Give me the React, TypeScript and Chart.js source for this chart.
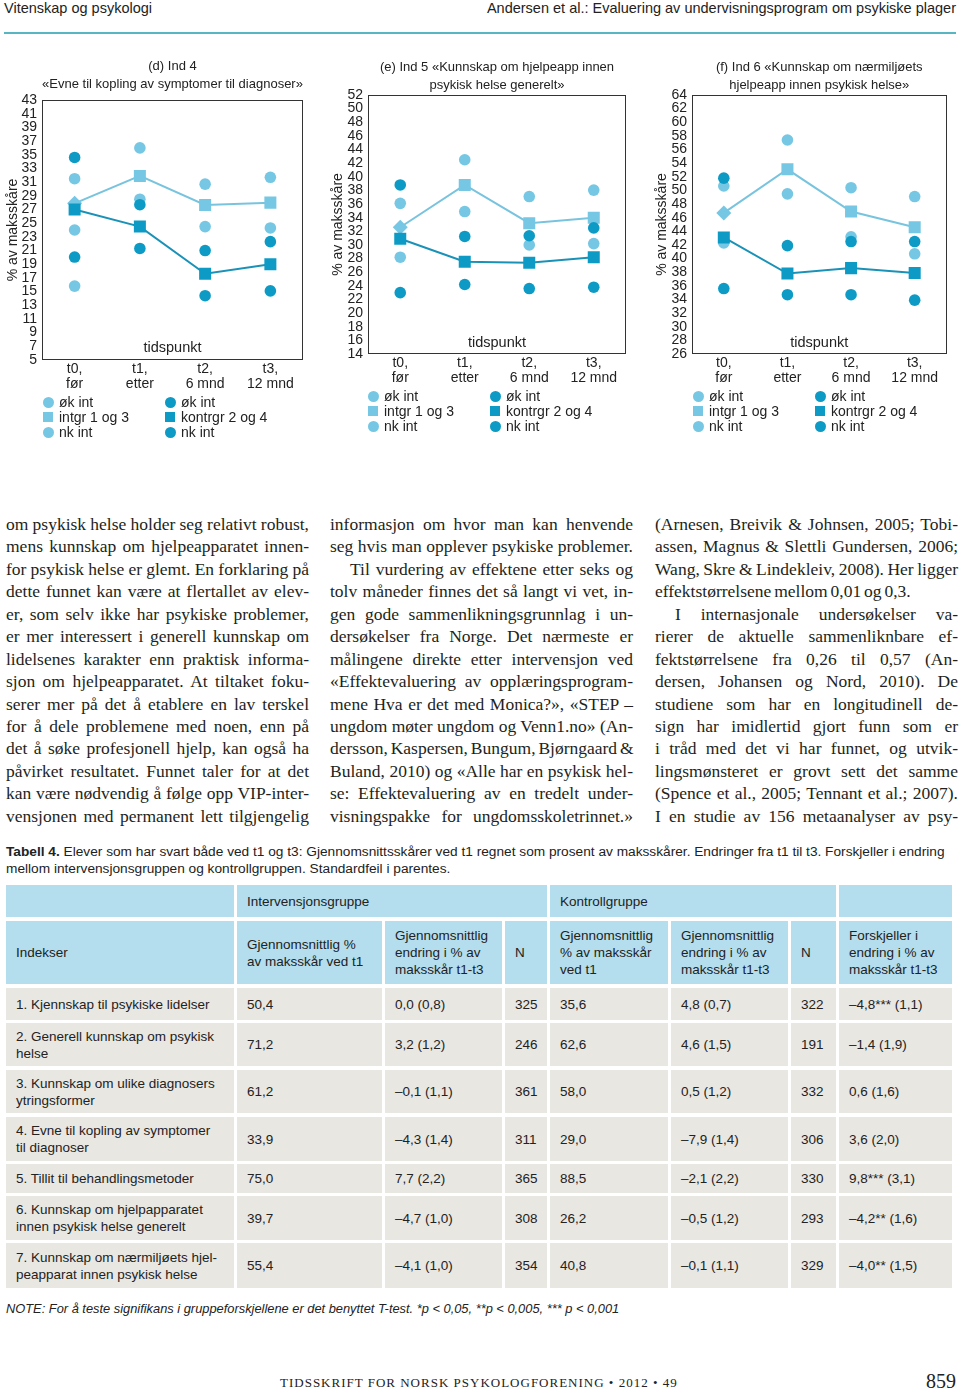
import React, { useEffect, useRef } from "react";
import { Chart, registerables } from "chart.js";

Chart.register(...registerables);
Chart.defaults.font.family = "'Liberation Sans', Arial, sans-serif";

// ---------- chart data ----------
const categories = [["t0,", "før"], ["t1,", "etter"], ["t2,", "6 mnd"], ["t3,", "12 mnd"]];
const yStep = 2;

// (d) Ind 4
const dTitle = ["(d) Ind 4", "«Evne til kopling av symptomer til diagnoser»"];
const dRange = [5, 43];
const dIntOk = [31.5, 36.0, 30.7, 31.7];
const dIntNk = [24.0, 28.5, 24.5, 24.3];
const dIntExtra = [15.8, null, null, null];
const dIntMean = [27.9, 31.9, 27.65, 28.0];
const dKonOk = [34.6, 27.7, 21.0, 22.3];
const dKonNk = [20.05, 21.3, 14.4, 15.1];
const dKonMean = [27.0, 24.5, 17.6, 19.0];

// (e) Ind 5
const eTitle = ["(e) Ind 5 «Kunnskap om hjelpeapp innen", "psykisk helse generelt»"];
const eRange = [14, 52];
const eIntOk = [36.1, 42.5, 37.1, 38.05];
const eIntNk = [28.2, 34.9, 30.0, 30.2];
const eIntMean = [32.6, 38.8, 33.2, 34.0];
const eKonOk = [38.8, 31.25, 31.35, 32.5];
const eKonNk = [23.0, 24.2, 23.6, 23.8];
const eKonMean = [30.9, 27.55, 27.4, 28.2];

// (f) Ind 6
const fTitle = ["(f) Ind 6 «Kunnskap om nærmiljøets", "hjelpeapp innen psykisk helse»"];
const fRange = [26, 64];
const fIntOk = [50.65, 57.4, 50.4, 49.1];
const fIntNk = [42.3, 49.5, 43.2, 40.7];
const fIntMean = [46.7, 53.1, 46.9, 44.6];
const fKonOk = [51.8, 41.9, 42.5, 42.5];
const fKonNk = [35.6, 34.7, 34.7, 33.9];
const fKonMean = [43.1, 37.8, 38.6, 37.9];

const legendLeft = ["øk int", "intgr 1 og 3", "nk int"];
const legendRight = ["øk int", "kontrgr 2 og 4", "nk int"];

// ---------- page text ----------
const headerLeft = "Vitenskap og psykologi";
const headerRight = "Andersen et al.: Evaluering av undervisningsprogram om psykiske plager";

const col1 = [
  "om psykisk helse holder seg relativt robust,",
  "mens kunnskap om hjelpeapparatet innen-",
  "for psykisk helse er glemt. En forklaring på",
  "dette funnet kan være at flertallet av elev-",
  "er, som selv ikke har psykiske problemer,",
  "er mer interessert i generell kunnskap om",
  "lidelsenes karakter enn praktisk informa-",
  "sjon om hjelpeapparatet. At tiltaket foku-",
  "serer mer på det å etablere en lav terskel",
  "for å dele problemene med noen, enn på",
  "det å søke profesjonell hjelp, kan også ha",
  "påvirket resultatet. Funnet taler for at det",
  "kan være nødvendig å følge opp VIP-inter-",
  "vensjonen med permanent lett tilgjengelig",
];
const col2 = [
  "informasjon om hvor man kan henvende",
  "seg hvis man opplever psykiske problemer.",
  "Til vurdering av effektene etter seks og",
  "tolv måneder finnes det så langt vi vet, in-",
  "gen gode sammenlikningsgrunnlag i un-",
  "dersøkelser fra Norge. Det nærmeste er",
  "målingene direkte etter intervensjon ved",
  "«Effektevaluering av opplæringsprogram-",
  "mene Hva er det med Monica?», «STEP –",
  "ungdom møter ungdom og Venn1.no» (An-",
  "dersson, Kaspersen, Bungum, Bjørngaard &",
  "Buland, 2010) og «Alle har en psykisk hel-",
  "se: Effektevaluering av en tredelt under-",
  "visningspakke for ungdomsskoletrinnet.»",
];
const col3 = [
  "(Arnesen, Breivik & Johnsen, 2005; Tobi-",
  "assen, Magnus & Slettli Gundersen, 2006;",
  "Wang, Skre & Lindekleiv, 2008). Her ligger",
  "effektstørrelsene mellom 0,01 og 0,3.",
  "I internasjonale undersøkelser va-",
  "rierer de aktuelle sammenliknbare ef-",
  "fektstørrelsene fra 0,26 til 0,57 (An-",
  "dersen, Johansen og Nord, 2010). De",
  "studiene som har en longitudinell de-",
  "sign har imidlertid gjort funn som er",
  "i tråd med det vi har funnet, og utvik-",
  "lingsmønsteret er grovt sett det samme",
  "(Spence et al., 2005; Tennant et al.; 2007).",
  "I en studie av 156 metaanalyser av psy-",
];

const captionBold = "Tabell 4.";
const captionLine1 =
  " Elever som har svart både ved t1 og t3: Gjennomsnittsskårer ved t1 regnet som prosent av maksskårer. Endringer fra t1 til t3. Forskjeller i endring";
const captionLine2 = "mellom intervensjonsgruppen og kontrollgruppen. Standardfeil i parentes.";
const groupHeaders = ["", "Intervensjonsgruppe", "Kontrollgruppe", ""];
const columnHeaders = [
  "Indekser",
  "Gjennomsnittlig %\nav maksskår ved t1",
  "Gjennomsnittlig\nendring i % av\nmaksskår t1-t3",
  "N",
  "Gjennomsnittlig\n% av maksskår\nved t1",
  "Gjennomsnittlig\nendring i % av\nmaksskår t1-t3",
  "N",
  "Forskjeller i\nendring i % av\nmaksskår t1-t3",
];
const tableRows = [
  ["1. Kjennskap til psykiske lidelser", "50,4", "0,0 (0,8)", "325", "35,6", "4,8 (0,7)", "322", "–4,8*** (1,1)"],
  ["2. Generell kunnskap om psykisk\nhelse", "71,2", "3,2 (1,2)", "246", "62,6", "4,6 (1,5)", "191", "–1,4 (1,9)"],
  ["3. Kunnskap om ulike diagnosers\nytringsformer", "61,2", "–0,1 (1,1)", "361", "58,0", "0,5 (1,2)", "332", "0,6 (1,6)"],
  ["4. Evne til kopling av symptomer\ntil diagnoser", "33,9", "–4,3 (1,4)", "311", "29,0", "–7,9 (1,4)", "306", "3,6 (2,0)"],
  ["5. Tillit til behandlingsmetoder", "75,0", "7,7 (2,2)", "365", "88,5", "–2,1 (2,2)", "330", "9,8*** (3,1)"],
  ["6. Kunnskap om hjelpapparatet\ninnen psykisk helse generelt", "39,7", "–4,7 (1,0)", "308", "26,2", "–0,5 (1,2)", "293", "–4,2** (1,6)"],
  ["7. Kunnskap om nærmiljøets hjel-\npeapparat innen psykisk helse", "55,4", "–4,1 (1,0)", "354", "40,8", "–0,1 (1,1)", "329", "–4,0** (1,5)"],
];
const noteText =
  "NOTE: For å teste signifikans i gruppeforskjellene er det benyttet T-test. *p < 0,05, **p < 0,005, *** p < 0,001";
const footerText = "TIDSSKRIFT FOR NORSK PSYKOLOGFORENING • 2012 • 49";
const pageNumber = "859";

// ---------- styles ----------
const LIGHT = "#76c7e3";
const DARK = "#0d9bc6";
const LIGHT_LINE = "#78c4df";
const DARK_LINE = "#1a92b8";
const INK = "#222";
const SANS = "'Liberation Sans', Arial, sans-serif";
const SERIF = "'Liberation Serif', 'Times New Roman', serif";

type PanelProps = {
  left: number;
  top: number;
  width: number;
  height: number;
  padRight: number;
  yWidth: number;
  yTitlePad: number;
  titlePadTop: number;
  titlePadBottom: number;
  tidOffset: number;
  title: string[];
  range: number[];
  intOk: (number | null)[];
  intNk: (number | null)[];
  intMean: (number | null)[];
  konOk: (number | null)[];
  konNk: (number | null)[];
  konMean: (number | null)[];
  extra?: (number | null)[];
};

function Panel(p: PanelProps) {
  const ref = useRef<HTMLCanvasElement | null>(null);
  useEffect(() => {
    if (!ref.current) return;
    const circle = (data: any, color: string, label: string) => ({
      label,
      data,
      showLine: false,
      pointStyle: "circle",
      pointRadius: 5.8,
      pointBorderWidth: 0,
      pointBackgroundColor: color,
      backgroundColor: color,
      borderColor: color,
    });
    const datasets: any[] = [
      {
        label: "kontrgr 2 og 4",
        data: p.konMean,
        borderColor: DARK_LINE,
        borderWidth: 2,
        pointStyle: "rect",
        pointRadius: 8.5,
        pointBorderWidth: 0,
        pointBackgroundColor: DARK,
        tension: 0,
      },
      circle(p.konOk, DARK, "øk int"),
      {
        label: "intgr 1 og 3",
        data: p.intMean,
        borderColor: LIGHT_LINE,
        borderWidth: 2,
        pointStyle: ["rectRot", "rect", "rect", "rect"],
        pointRadius: [7.5, 8.5, 8.5, 8.5],
        pointBorderWidth: 0,
        pointBackgroundColor: LIGHT,
        tension: 0,
      },
      circle(p.intOk, LIGHT, "øk int"),
      circle(p.intNk, LIGHT, "nk int"),
      circle(p.konNk, DARK, "nk int"),
    ];
    if (p.extra) datasets.push(circle(p.extra, LIGHT, "øk int"));
    const tid = p.tidOffset;
    const chart = new Chart(ref.current, {
      type: "line",
      data: { labels: categories as any, datasets },
      plugins: [
        {
          id: "frame",
          beforeDatasetsDraw(c: any) {
            const { ctx, chartArea } = c;
            const { left, top, right, bottom } = chartArea;
            ctx.save();
            ctx.strokeStyle = "#333";
            ctx.lineWidth = 1;
            ctx.strokeRect(Math.round(left) + 0.5, Math.round(top) + 0.5, Math.round(right - left) - 1, Math.round(bottom - top) - 1);
            ctx.fillStyle = INK;
            ctx.font = `14.5px ${SANS}`;
            ctx.textAlign = "center";
            ctx.textBaseline = "middle";
            ctx.fillText("tidspunkt", (left + right) / 2, bottom - tid);
            ctx.restore();
          },
        },
      ],
      options: {
        animation: false,
        responsive: false,
        devicePixelRatio: 1,
        events: [],
        layout: { padding: { left: 0, right: p.padRight, top: 0, bottom: 0 } },
        plugins: {
          legend: { display: false },
          tooltip: { enabled: false },
          title: {
            display: true,
            text: p.title,
            fullSize: false,
            color: INK,
            font: { size: 13, weight: "normal", lineHeight: 18 / 13 },
            padding: { top: p.titlePadTop, bottom: p.titlePadBottom },
          },
        },
        scales: {
          x: {
            offset: true,
            grid: { display: false, drawTicks: false },
            border: { display: false },
            ticks: {
              color: INK,
              font: { size: 14, lineHeight: 15 / 14 },
              padding: 2,
              maxRotation: 0,
              autoSkip: false,
            },
            afterFit(s: any) {
              s.height = 40;
            },
          },
          y: {
            min: p.range[0],
            max: p.range[1],
            grid: { display: false, drawTicks: false },
            border: { display: false },
            ticks: {
              stepSize: yStep,
              autoSkip: false,
              color: INK,
              font: { size: 14, lineHeight: 1 },
              padding: 5,
            },
            title: {
              display: true,
              text: "% av maksskåre",
              color: INK,
              font: { size: 14, lineHeight: 1.1 },
              padding: { top: p.yTitlePad, bottom: 0 },
            },
            afterFit(s: any) {
              s.width = p.yWidth;
            },
          },
        },
      } as any,
    });
    return () => chart.destroy();
  }, []);
  return (
    <canvas
      ref={ref}
      width={p.width}
      height={p.height}
      style={{ position: "absolute", left: p.left, top: p.top, width: p.width, height: p.height }}
    />
  );
}

function Legend({ x1, x2, y }: { x1: number; x2: number; y: number }) {
  const items: React.ReactNode[] = [];
  const rowGap = 15;
  const marker = (cx: number, cy: number, color: string, square: boolean, key: string) => (
    <div
      key={key}
      style={{
        position: "absolute",
        left: cx - (square ? 5 : 5.5),
        top: cy - (square ? 5 : 5.5),
        width: square ? 10 : 11,
        height: square ? 10 : 11,
        borderRadius: square ? 0 : "50%",
        background: color,
      }}
    />
  );
  const label = (x: number, cy: number, text: string, key: string) => (
    <div
      key={key}
      style={{
        position: "absolute",
        left: x,
        top: cy - 9,
        height: 18,
        lineHeight: "18px",
        fontFamily: SANS,
        fontSize: 14,
        color: INK,
        whiteSpace: "nowrap",
      }}
    >
      {text}
    </div>
  );
  legendLeft.forEach((t, i) => {
    const cy = y + i * rowGap;
    items.push(marker(x1, cy, LIGHT, i === 1, "lm" + i));
    items.push(label(x1 + 11, cy, t, "lt" + i));
  });
  legendRight.forEach((t, i) => {
    const cy = y + i * rowGap;
    items.push(marker(x2, cy, DARK, i === 1, "rm" + i));
    items.push(label(x2 + 11, cy, t, "rt" + i));
  });
  return <>{items}</>;
}

function TextColumn({ left, lines, indent, ragged }: { left: number; lines: string[]; indent: number[]; ragged: number[] }) {
  return (
    <div
      style={{
        position: "absolute",
        left,
        top: 513,
        width: 303,
        fontFamily: SERIF,
        fontSize: 17.5,
        wordSpacing: "-1.5px",
        lineHeight: "22.45px",
        color: "#231f20",
      }}
    >
      {lines.map((l, i) => (
        <div
          key={i}
          style={{
            whiteSpace: "nowrap",
            textAlign: ragged.includes(i) ? "left" : "justify",
            textAlignLast: ragged.includes(i) ? "left" : "justify",
            paddingLeft: indent.includes(i) ? 20 : 0,
            height: 22.45,
          } as any}
        >
          {l}
        </div>
      ))}
    </div>
  );
}

const colLeft = [6, 237, 385, 505, 550, 671, 791, 839];
const colRight = [234, 382, 502, 547, 668, 788, 836, 952];
const groupSpans = [
  [0, 0],
  [1, 3],
  [4, 6],
  [7, 7],
];
const rowTop = [988, 1023, 1070, 1117, 1164, 1196, 1243];
const rowBottom = [1020, 1066, 1113, 1161, 1193, 1240, 1288];

function Table() {
  const cells: React.ReactNode[] = [];
  const cell = (key: string, l: number, t: number, r: number, b: number, bg: string, text: string) => (
    <div
      key={key}
      style={{
        position: "absolute",
        left: l,
        top: t,
        width: r - l,
        height: b - t,
        background: bg,
        display: "flex",
        alignItems: "center",
        paddingLeft: 10,
        boxSizing: "border-box",
        fontFamily: SANS,
        fontSize: 13.5,
        lineHeight: "17px",
        color: INK,
        whiteSpace: "pre",
      }}
    >
      {text}
    </div>
  );
  const BLUE = "#b4deed";
  const GREY = "#e9e7e2";
  groupHeaders.forEach((g, i) => {
    const [a, b] = groupSpans[i];
    cells.push(cell("g" + i, colLeft[a], 885, colRight[b], 917, BLUE, g));
  });
  columnHeaders.forEach((h, i) => {
    cells.push(cell("h" + i, colLeft[i], 921, colRight[i], 984, BLUE, h));
  });
  tableRows.forEach((row, r) => {
    row.forEach((v, c) => {
      cells.push(cell(`r${r}c${c}`, colLeft[c], rowTop[r], colRight[c], rowBottom[r], GREY, v));
    });
  });
  return <>{cells}</>;
}

export default function App() {
  return (
    <div style={{ position: "absolute", left: 0, top: 0, width: 960, height: 1392, background: "#fff", overflow: "hidden" }}>
      <div style={{ position: "absolute", left: 4, top: 0, fontFamily: SANS, fontSize: 14.5, lineHeight: "17px", color: INK }}>{headerLeft}</div>
      <div style={{ position: "absolute", right: 4, top: 0, fontFamily: SANS, fontSize: 14.5, lineHeight: "17px", color: INK, whiteSpace: "nowrap" }}>
        {headerRight}
      </div>
      <div style={{ position: "absolute", left: 4, top: 32, width: 952, height: 2, background: "#58b6c2" }} />

      <Panel
        left={0}
        top={50}
        width={315}
        height={350}
        padRight={12}
        yWidth={42}
        yTitlePad={5}
        titlePadTop={7}
        titlePadBottom={7}
        tidOffset={12}
        title={dTitle}
        range={dRange}
        intOk={dIntOk}
        intNk={dIntNk}
        intMean={dIntMean}
        konOk={dKonOk}
        konNk={dKonNk}
        konMean={dKonMean}
        extra={dIntExtra}
      />
      <Panel
        left={320}
        top={50}
        width={315}
        height={344}
        padRight={9}
        yWidth={48}
        yTitlePad={10}
        titlePadTop={8}
        titlePadBottom={1}
        tidOffset={11}
        title={eTitle}
        range={eRange}
        intOk={eIntOk}
        intNk={eIntNk}
        intMean={eIntMean}
        konOk={eKonOk}
        konNk={eKonNk}
        konMean={eKonMean}
      />
      <Panel
        left={640}
        top={50}
        width={315}
        height={344}
        padRight={7}
        yWidth={52}
        yTitlePad={14}
        titlePadTop={8}
        titlePadBottom={1}
        tidOffset={11}
        title={fTitle}
        range={fRange}
        intOk={fIntOk}
        intNk={fIntNk}
        intMean={fIntMean}
        konOk={fKonOk}
        konNk={fKonNk}
        konMean={fKonMean}
      />
      <Legend x1={48} x2={170} y={402} />
      <Legend x1={373} x2={495} y={396} />
      <Legend x1={698} x2={820} y={396} />

      <TextColumn left={6} lines={col1} indent={[]} ragged={[]} />
      <TextColumn left={330} lines={col2} indent={[2]} ragged={[]} />
      <TextColumn left={655} lines={col3} indent={[4]} ragged={[3]} />

      <div style={{ position: "absolute", left: 6, top: 843, fontFamily: SANS, fontSize: 13.7, lineHeight: "17px", color: INK, whiteSpace: "nowrap" }}>
        <b>{captionBold}</b>
        {captionLine1}
      </div>
      <div style={{ position: "absolute", left: 6, top: 860, fontFamily: SANS, fontSize: 13.7, lineHeight: "17px", color: INK, whiteSpace: "nowrap" }}>
        {captionLine2}
      </div>
      <Table />
      <div style={{ position: "absolute", left: 6, top: 1300, fontFamily: SANS, fontSize: 12.85, fontStyle: "italic", lineHeight: "17px", color: INK, whiteSpace: "nowrap" }}>
        {noteText}
      </div>
      <div style={{ position: "absolute", left: 280, top: 1374, fontFamily: SERIF, fontSize: 13, letterSpacing: 1, lineHeight: "18px", color: INK, whiteSpace: "nowrap" }}>
        {footerText}
      </div>
      <div style={{ position: "absolute", right: 4, top: 1370, fontFamily: SERIF, fontSize: 20, lineHeight: "22px", color: INK }}>{pageNumber}</div>
    </div>
  );
}
